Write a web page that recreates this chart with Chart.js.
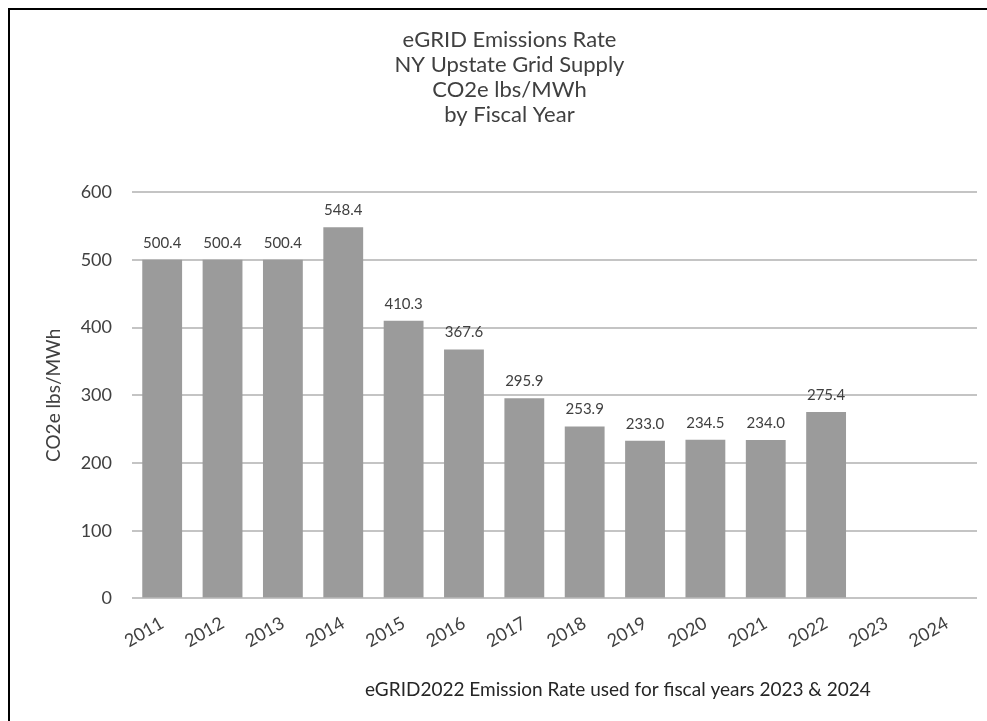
<!DOCTYPE html>
<html>
<head>
<meta charset="utf-8">
<script src="https://cdn.jsdelivr.net/npm/chart.js@4"></script>
<style>
  html, body { margin: 0; padding: 0; background: #fff; overflow: hidden; }
  #wrap { position: absolute; left: 0; top: 0; width: 987px; height: 721px; }
</style>
</head>
<body>
<div id="wrap"><canvas id="c"></canvas></div>
<script>
// eGRID emission rates, NY Upstate, by fiscal year
const years = ['2011', '2012', '2013', '2014', '2015', '2016', '2017', '2018', '2019', '2020', '2021', '2022', '2023', '2024'];
const rates = [500.4, 500.4, 500.4, 548.4, 410.3, 367.6, 295.9, 253.9, 233.0, 234.5, 234.0, 275.4, null, null];
const yTicks = [0, 100, 200, 300, 400, 500, 600];

const titleLines = ['eGRID Emissions Rate', 'NY Upstate Grid Supply', 'CO2e lbs/MWh', 'by Fiscal Year'];
const footNote = 'eGRID2022 Emission Rate used for fiscal years 2023 & 2024';

const FONT = 'Lato, "Open Sans", sans-serif';

// frame round the picture + value labels + the note under the axis
const extras = {
  id: 'extras',
  beforeDraw(chart) {
    const ctx = chart.ctx;
    ctx.save();
    ctx.fillStyle = '#fff';
    ctx.fillRect(0, 0, chart.width, chart.height);
    ctx.strokeStyle = '#000';
    ctx.lineWidth = 2;
    ctx.beginPath();
    ctx.moveTo(9, chart.height + 5);
    ctx.lineTo(9, 9);
    ctx.lineTo(chart.width + 5, 9);
    ctx.stroke();
    ctx.restore();
  },
  afterDatasetsDraw(chart) {
    const ctx = chart.ctx;
    const meta = chart.getDatasetMeta(0);
    ctx.save();
    ctx.font = '15px ' + FONT;
    ctx.fillStyle = '#404040';
    ctx.textAlign = 'center';
    ctx.textBaseline = 'middle';
    meta.data.forEach((bar, i) => {
      if (rates[i] == null) return;
      ctx.fillText(rates[i].toFixed(1), bar.x, bar.y - 17);
    });
    const a = chart.chartArea;
    ctx.font = '19px ' + FONT;
    ctx.fillStyle = '#262626';
    ctx.fillText(footNote, a.left + (a.right - a.left) * 0.575, 690);
    ctx.restore();
  }
};

new Chart(document.getElementById('c'), {
  type: 'bar',
  data: {
    labels: years,
    datasets: [{
      data: rates,
      backgroundColor: '#9b9b9b',
      borderWidth: 0,
      barPercentage: 0.66,
      categoryPercentage: 1.0
    }]
  },
  options: {
    responsive: true,
    maintainAspectRatio: false,
    animation: false,
    layout: { padding: { top: 27, left: 42, right: 10, bottom: 63 } },
    plugins: {
      legend: { display: false },
      tooltip: { enabled: false },
      title: {
        display: true,
        text: titleLines,
        color: '#404040',
        font: { family: FONT, size: 22, weight: 'normal', lineHeight: 1.14 },
        padding: { top: 0, bottom: 65 }
      }
    },
    scales: {
      x: {
        grid: { display: false },
        border: { display: false },
        ticks: {
          color: '#404040',
          font: { family: FONT, size: 18 },
          minRotation: 30,
          maxRotation: 30,
          padding: 6
        }
      },
      y: {
        min: 0,
        max: 600,
        afterBuildTicks(scale) { scale.ticks = yTicks.map(v => ({ value: v })); },
        afterFit(scale) { scale.width = 90; },
        grid: { color: '#c4c4c4', lineWidth: 2, drawTicks: false },
        border: { display: false },
        ticks: {
          color: '#404040',
          font: { family: FONT, size: 18 },
          padding: 20
        },
        title: {
          display: true,
          text: 'CO2e lbs/MWh',
          color: '#404040',
          font: { family: FONT, size: 19 },
          padding: { top: 0, bottom: 0 }
        }
      }
    }
  },
  plugins: [extras]
});
</script>
</body>
</html>
